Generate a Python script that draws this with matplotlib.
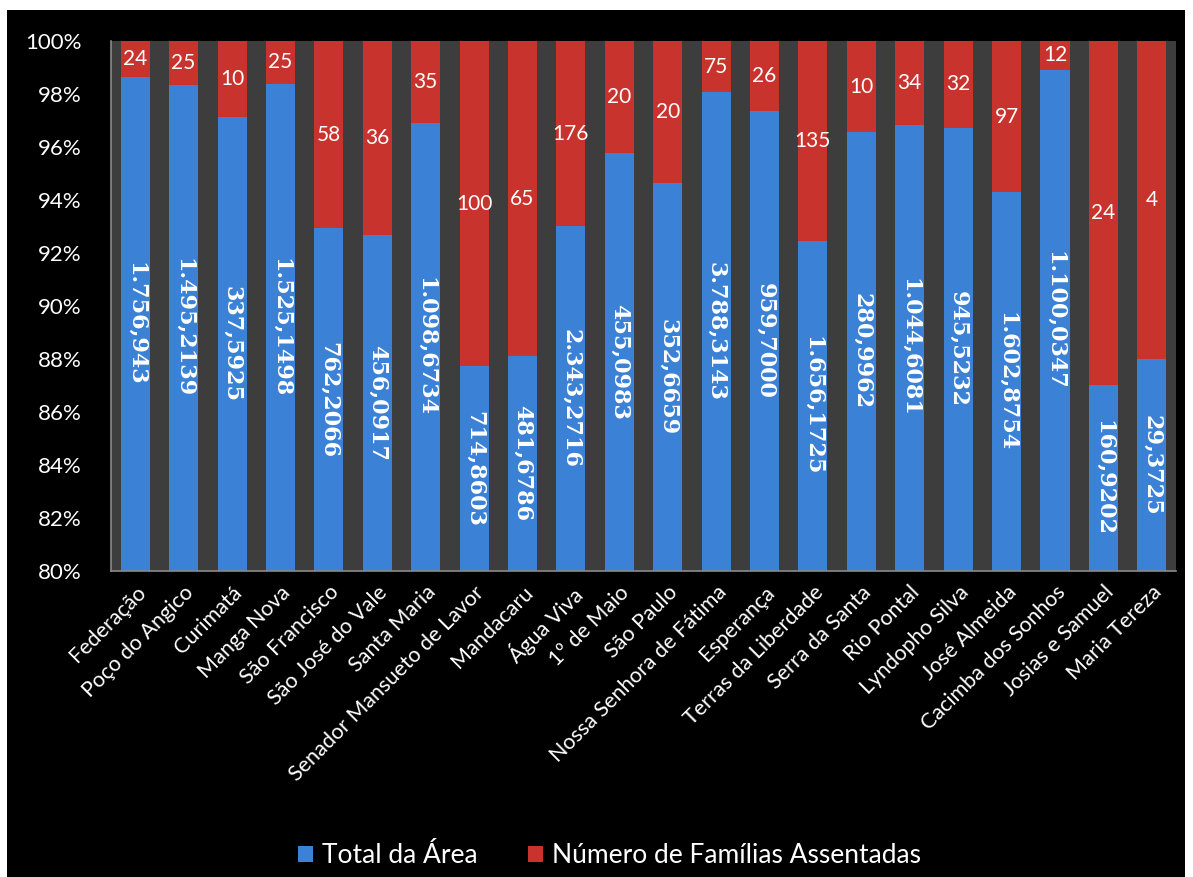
import matplotlib
matplotlib.use("Agg")
import matplotlib.pyplot as plt
import numpy as np
from matplotlib.patches import Rectangle
from matplotlib.ticker import FuncFormatter

categories = ["Federação", "Poço do Angico", "Curimatá", "Manga Nova", "São Francisco",
              "São José do Vale", "Santa Maria", "Senador Mansueto de Lavor", "Mandacaru",
              "Água Viva", "1º de Maio", "São Paulo", "Nossa Senhora de Fátima", "Esperança",
              "Terras da Liberdade", "Serra da Santa", "Rio Pontal", "Lyndopho Silva",
              "José Almeida", "Cacimba dos Sonhos", "Josias e Samuel", "Maria Tereza"]
area_text = ["1.756,943", "1.495,2139", "337,5925", "1.525,1498", "762,2066", "456,0917",
             "1.098,6734", "714,8603", "481,6786", "2.343,2716", "455,0983", "352,6659",
             "3.788,3143", "959,7000", "1.656,1725", "280,9962", "1.044,6081", "945,5232",
             "1.602,8754", "1.100,0347", "160,9202", "29,3725"]
familias = [24, 25, 10, 25, 58, 36, 35, 100, 65, 176, 20, 20, 75, 26, 135, 10, 34, 32,
            97, 12, 24, 4]
series_names = ["Total da Área", "Número de Famílias Assentadas"]
ytick_vals = [0.80, 0.82, 0.84, 0.86, 0.88, 0.90, 0.92, 0.94, 0.96, 0.98, 1.00]

area = np.array([float(s.replace(".", "").replace(",", ".")) for s in area_text])
fam = np.array(familias, dtype=float)
total = area + fam
p_area = area / total
p_fam = fam / total

W, H = 1193, 877
fig = plt.figure(figsize=(W / 100, H / 100), dpi=100, facecolor="white")
fig.patches.append(Rectangle((7 / W, 0), 1178 / W, 867 / H, transform=fig.transFigure,
                             facecolor="black", edgecolor="none", zorder=-10))
ax = fig.add_axes([111 / W, 1 - 571 / H, (1176 - 111) / W, (571 - 41) / H])
ax.set_facecolor("#3d3d3d")

x = np.arange(len(categories))
bw = 0.6
blue_bars = ax.bar(x, p_area, bw, color="#3b82d7", label=series_names[0], zorder=2)
red_bars = ax.bar(x, p_fam, bw, bottom=p_area, color="#c8332d", label=series_names[1], zorder=2)
ax.set_xlim(-0.5, len(categories) - 0.5)
ax.set_ylim(0.80, 1.00)

# labels
for i in range(len(categories)):
    ytop = p_area[i]
    ax.text(x[i], (0.80 + ytop) / 2, area_text[i], rotation=270, ha="center", va="center",
            color="white", fontsize=16, fontweight="bold", family="DejaVu Serif", zorder=4)
    ax.text(x[i], (ytop + 1.0) / 2, str(familias[i]), ha="center", va="center",
            color="white", fontsize=15, family="Lato", zorder=4)

ax.set_yticks(ytick_vals)
ax.yaxis.set_major_formatter(FuncFormatter(lambda v, p: f"{v*100:.0f}%"))
ax.set_xticks(x)
ax.set_xticklabels(categories, rotation=45, ha="right", rotation_mode="anchor",
                   color="white", fontsize=15.5, family="Lato")
ax.tick_params(axis="y", colors="white", labelsize=16, length=0, pad=21)
ax.tick_params(axis="x", length=0, pad=8)
for lab in ax.get_yticklabels():
    lab.set_family("Lato")
for s in ["top", "right"]:
    ax.spines[s].set_visible(False)
for s in ["left", "bottom"]:
    ax.spines[s].set_color("#8a8a8a")
    ax.spines[s].set_linewidth(1.2)

leg = fig.legend(handles=[blue_bars, red_bars], labels=series_names, loc="center",
                 bbox_to_anchor=(0.511, 0.024), ncol=2, frameon=False,
                 prop={"family": "Lato", "size": 19}, handlelength=0.55, handleheight=0.55,
                 handletextpad=0.35, columnspacing=1.9)
for t in leg.get_texts():
    t.set_color("white")

fig.savefig("out.png", dpi=100, facecolor=fig.get_facecolor())
